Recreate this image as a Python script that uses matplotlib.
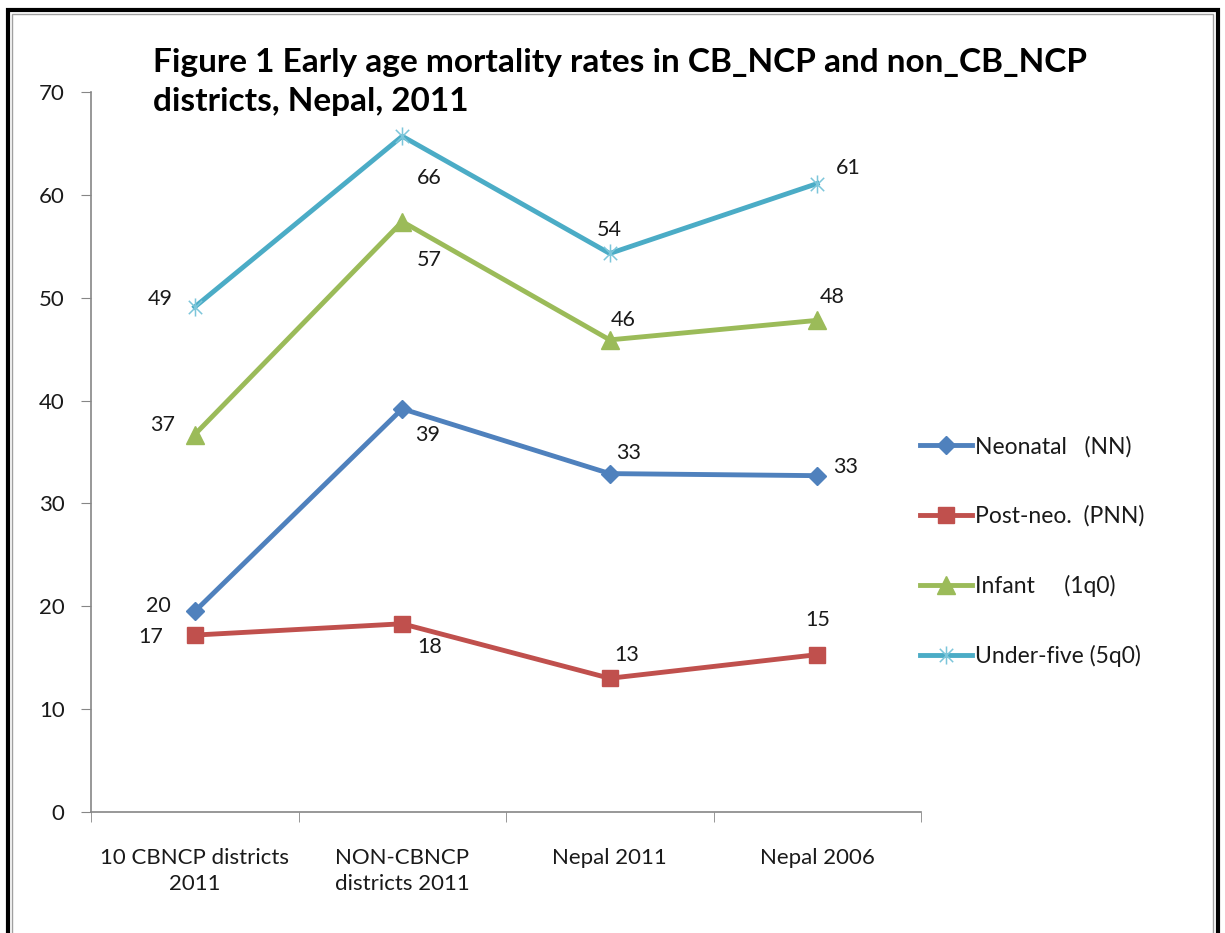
import matplotlib
matplotlib.use("Agg")
import matplotlib.pyplot as plt
from matplotlib.path import Path
from matplotlib.patches import Rectangle

plt.rcParams["font.family"] = ["Lato", "DejaVu Sans"]

categories = ["10 CBNCP districts\n2011", "NON-CBNCP\ndistricts 2011", "Nepal 2011", "Nepal 2006"]
neonatal = [19.5, 39.2, 32.9, 32.7]
post_neo = [17.2, 18.3, 13.0, 15.3]
infant = [36.7, 57.4, 45.9, 47.8]
under_five = [49.1, 65.7, 54.3, 61.1]

neonatal_lbl = ["20", "39", "33", "33"]
post_neo_lbl = ["17", "18", "13", "15"]
infant_lbl = ["37", "57", "46", "48"]
under_five_lbl = ["49", "66", "54", "61"]

# label offsets in pixels (dx, dy)
neonatal_off = [(-36, 5), (25, -26), (19, 21), (28, 9)]
post_neo_off = [(-44, -2), (27, -23), (17, 23), (0, 35)]
infant_off = [(-32, 10), (27, -38), (13, 20), (15, 23)]
under_five_off = [(-34, 8), (27, -42), (0, 23), (31, 16)]

star = Path([(-1, -1), (1, 1), (-1, 1), (1, -1), (0, -1.35), (0, 1.35)],
            [Path.MOVETO, Path.LINETO, Path.MOVETO, Path.LINETO, Path.MOVETO, Path.LINETO])

fig = plt.figure(figsize=(12.25, 9.33), dpi=100)
ax = fig.add_axes([91 / 1225, 1 - 812 / 933, (921 - 91) / 1225, (812 - 92) / 933])

x = range(len(categories))
series = [
    ("Neonatal   (NN)", neonatal, neonatal_lbl, neonatal_off, "#4F81BD", dict(marker="D", ms=9)),
    ("Post-neo.  (PNN)", post_neo, post_neo_lbl, post_neo_off, "#C0504D", dict(marker="s", ms=12)),
    ("Infant     (1q0)", infant, infant_lbl, infant_off, "#9BBB59", dict(marker="^", ms=13)),
    ("Under-five (5q0)", under_five, under_five_lbl, under_five_off, "#4BACC6",
     dict(marker=star, ms=13, mfc="none", mec="#7CC6DA", mew=1.1)),
]
for name, vals, lbls, offs, col, mk in series:
    ax.plot(x, vals, "-", color=col, lw=3.5, label=name, **mk)
    for xi, v, t, (dx, dy) in zip(x, vals, lbls, offs):
        ax.annotate(t, (xi, v), xytext=(dx, dy), textcoords="offset pixels",
                    ha="center", va="center", fontsize=15.5, color="#1a1a1a")

ax.set_xlim(-0.5, 3.5)
ax.set_ylim(0, 70)
ax.set_yticks(range(0, 71, 10))
ax.set_xticks(list(x))
ax.set_xticklabels(categories, fontsize=16, color="#1a1a1a", linespacing=1.35)
ax.set_xticks([-0.5, 0.5, 1.5, 2.5, 3.5], minor=True)
ax.tick_params(axis="x", which="major", length=0, pad=26)
ax.tick_params(axis="x", which="minor", length=7, color="#868686", direction="out")
ax.tick_params(axis="y", length=7, color="#868686", labelsize=16, labelcolor="#1a1a1a", pad=12)
for s in ("top", "right"):
    ax.spines[s].set_visible(False)
for s in ("left", "bottom"):
    ax.spines[s].set_color("#868686")
    ax.spines[s].set_linewidth(1.2)

leg = fig.legend(loc="upper left", bbox_to_anchor=(899 / 1225, 1 - 415 / 933), frameon=False,
                 fontsize=16.5, labelspacing=2.1, handlelength=2.3, handletextpad=0.1)
for t in leg.get_texts():
    t.set_color("#1a1a1a")

fig.text(153 / 1225, 1 - 82 / 933, "Figure 1 Early age mortality rates in CB_NCP and non_CB_NCP\ndistricts, Nepal, 2011",
         fontsize=24, fontweight="bold", va="center", ha="left", linespacing=1.45)

fig.patches.append(Rectangle((8 / 1225, -0.05), (1218 - 8) / 1225, 1.05 - 10 / 933,
                             transform=fig.transFigure, fill=False, ec="black", lw=3))
fig.patches.append(Rectangle((12 / 1225, -0.05), (1213 - 12) / 1225, 1.05 - 14 / 933,
                             transform=fig.transFigure, fill=False, ec="#a0a0a0", lw=1))

fig.savefig("out.png", dpi=100)
